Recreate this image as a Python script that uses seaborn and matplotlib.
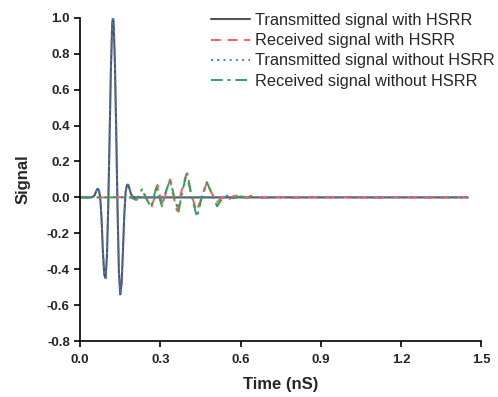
import matplotlib
matplotlib.use('Agg')
import matplotlib.pyplot as plt
import seaborn as sns

# transmitted pulse (same with and without HSRR)
t_tx = [0.0, 0.04, 0.05, 0.055, 0.06, 0.065, 0.07, 0.075, 0.08, 0.085, 0.09, 0.095,
        0.1, 0.105, 0.11, 0.115, 0.12, 0.1225, 0.125, 0.13, 0.135, 0.14, 0.145, 0.15,
        0.155, 0.16, 0.165, 0.17, 0.175, 0.18, 0.185, 0.19, 0.195, 0.205, 1.45]
tx_hsrr = [0.0, 0.0, 0.005, 0.015, 0.035, 0.048, 0.04, 0.0, -0.12, -0.30, -0.43, -0.45,
           -0.33, -0.05, 0.33, 0.72, 0.97, 1.0, 0.98, 0.75, 0.35, -0.08, -0.42, -0.54,
           -0.48, -0.30, -0.10, 0.03, 0.07, 0.07, 0.045, 0.02, 0.005, 0.0, 0.0]
tx_no_hsrr = [0.0, 0.0, 0.005, 0.015, 0.035, 0.048, 0.04, 0.0, -0.12, -0.30, -0.43, -0.45,
              -0.33, -0.05, 0.33, 0.72, 0.97, 1.0, 0.98, 0.75, 0.35, -0.08, -0.42, -0.54,
              -0.48, -0.30, -0.10, 0.03, 0.07, 0.07, 0.045, 0.02, 0.005, 0.0, 0.0]

# received with HSRR
t_rx_hsrr = [0.0, 0.1, 0.12, 0.19, 0.21, 0.225, 0.24, 0.255, 0.267, 0.278, 0.289, 0.3,
             0.31, 0.323, 0.336, 0.35, 0.362, 0.378, 0.397, 0.415, 0.435, 0.45, 0.474,
             0.49, 0.51, 0.53, 0.55, 0.57, 0.6, 0.62, 0.64, 0.66, 0.7, 0.75, 0.8, 0.85,
             0.9, 1.0, 1.1, 1.2, 1.3, 1.45]
rx_hsrr = [0.0, 0.0, 0.002, 0.0, -0.015, 0.01, 0.02, -0.03, -0.055, 0.0, 0.07, 0.0,
           -0.04, 0.04, 0.1, 0.0, -0.075, 0.03, 0.13, 0.02, -0.075, -0.02, 0.085,
           0.03, -0.03, 0.0, -0.02, 0.005, 0.015, -0.005, 0.01, 0.0, -0.003, 0.002, -0.003, 0.002,
           0.0, 0.002, -0.002, 0.001, -0.001, 0.0]

# received without HSRR
t_rx_no = [0.0, 0.19, 0.205, 0.215, 0.231, 0.245, 0.265, 0.275, 0.287, 0.296, 0.306,
           0.32, 0.337, 0.352, 0.368, 0.383, 0.4, 0.418, 0.437, 0.455, 0.474, 0.493,
           0.512, 0.53, 0.55, 0.57, 0.6, 0.655]
rx_no = [0.0, 0.0, -0.01, 0.0, 0.045, 0.0, -0.055, 0.0, 0.07, 0.0, -0.05,
         0.03, 0.1, 0.0, -0.08, 0.04, 0.14, 0.0, -0.11, 0.0, 0.085, 0.02,
         -0.05, -0.01, 0.01, -0.005, 0.005, 0.0]

x_ticks = [0.0, 0.3, 0.6, 0.9, 1.2, 1.5]
y_ticks = [-0.8, -0.6, -0.4, -0.2, 0.0, 0.2, 0.4, 0.6, 0.8, 1.0]

sns.set_style('ticks')
plt.rcParams['font.family'] = ['Liberation Sans', 'DejaVu Sans']

fig = plt.figure(figsize=(4.98, 3.97), dpi=100)
ax = fig.add_axes([0.161, 0.141, 0.805, 0.814])

sns.lineplot(x=t_tx, y=tx_hsrr, color='#555555', linewidth=1.5, linestyle='-',
             label='Transmitted signal with HSRR', ax=ax)
sns.lineplot(x=t_rx_hsrr, y=rx_hsrr, color='#ff5a5a', linewidth=1.4, linestyle=(0, (5, 3.5)),
             label='Received signal with HSRR', ax=ax)
sns.lineplot(x=t_tx, y=tx_no_hsrr, color='#3c7ff0', linewidth=1.4, linestyle=(0, (1, 2.2)),
             label='Transmitted signal without HSRR', ax=ax)
sns.lineplot(x=t_rx_no, y=rx_no, color='#2ca25a', linewidth=1.4, linestyle=(0, (6, 2.5, 1.5, 2.5)),
             label='Received signal without HSRR', ax=ax)

ax.set_xlim(0, 1.5)
ax.set_ylim(-0.8, 1.0)
ax.set_xticks(x_ticks)
ax.set_yticks(y_ticks)
ax.set_xticklabels([f'{v:.1f}' for v in x_ticks], fontweight='bold', fontsize=9.5)
ax.set_yticklabels([f'{v:.1f}' for v in y_ticks], fontweight='bold', fontsize=9.5)
ax.tick_params(direction='out', length=4, width=1.2, color='black')
ax.tick_params(axis='x', pad=5)
for s in ['left', 'bottom']:
    ax.spines[s].set_linewidth(1.2)
    ax.spines[s].set_color('black')
sns.despine(ax=ax)

ax.set_xlabel('Time (nS)', fontweight='bold', fontsize=12, labelpad=8)
ax.set_ylabel('Signal', fontweight='bold', fontsize=12, labelpad=12)

ax.legend(loc='upper right', frameon=False, fontsize=11.7, handlelength=2.4,
          handletextpad=0.3, labelspacing=0.32, borderaxespad=0.0,
          bbox_to_anchor=(1.05, 1.035))

fig.savefig('out.png', dpi=100)
